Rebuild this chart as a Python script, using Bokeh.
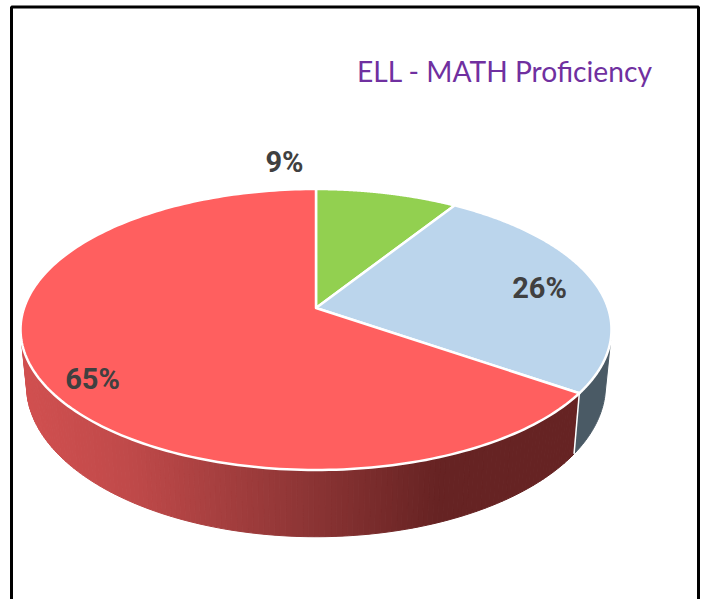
import numpy as np
from bokeh.plotting import figure
from bokeh.embed import file_html
from bokeh.resources import INLINE
from bokeh.core.properties import value

# --- data ---
categories = ["Proficient", "Approaching", "Below"]
shares = [9.0, 25.6, 65.4]
shown_labels = ["9%", "26%", "65%"]
slice_colors = ["#92D050", "#BBD5EC", "#FF5F5F"]
blue_wall_color = "#4A5A65"
title_text = "ELL - MATH Proficiency"

# --- layout / style ---
W, H = 709, 599
CX, CY = 315.5, 307.5
RX, RY = 292.0, 137.2
PERSP = -0.153
LOW_SX, LOW_RY, LOW_CY = 0.98, 148.0, 361.5
WALL_START, WALL_END = np.radians(103.0), np.radians(257.0)
label_pos = [(284, 161), (539, 287), (92, 378)]

def top(t):
    X, Y = np.sin(t), -np.cos(t)
    d = 1 + PERSP * Y
    return CX + RX * X / d, CY + RY * Y / d

def low(t):
    X, Y = np.sin(t), -np.cos(t)
    d = 1 + PERSP * Y
    return CX + LOW_SX * RX * X / d, LOW_CY + LOW_RY * Y / d

def red_shade(x):
    stops_x = [20, 130, 300, 440, 620]
    r = np.interp(x, stops_x, [0xD2, 0xC0, 0x8F, 0x66, 0x66])
    g = np.interp(x, stops_x, [0x50, 0x4A, 0x36, 0x23, 0x23])
    b = np.interp(x, stops_x, [0x50, 0x4A, 0x36, 0x23, 0x23])
    return "#%02x%02x%02x" % (int(r), int(g), int(b))

p = figure(width=W, height=H, x_range=(0, W), y_range=(H, 0),
           toolbar_location=None, output_backend="svg", min_border=0,
           outline_line_color=None, background_fill_color="white",
           border_fill_color="white")
p.axis.visible = False
p.grid.visible = False

# frame
p.line([11, 11, 698, 698], [H, 6.5, 6.5, H], line_color="black", line_width=3)

edges = np.cumsum([0.0] + shares) / sum(shares) * 2 * np.pi

# red wall, shaded strip by strip
steps = np.linspace(edges[2], WALL_END, 141)
xs, ys, cols = [], [], []
for t0, t1 in zip(steps[:-1], steps[1:]):
    x0, y0 = top(t0); x1, y1 = top(t1)
    x2, y2 = low(t1); x3, y3 = low(t0)
    xs.append([x0, x1, x2, x3]); ys.append([y0, y1, y2, y3])
    cols.append(red_shade((x0 + x1 + x2 + x3) / 4))
p.patches(xs, ys, fill_color=cols, line_color=cols, line_width=1)

# blue wall
bt = np.linspace(WALL_START, edges[2], 30)
bx = list(top(bt)[0]) + list(low(bt)[0][::-1])
by = list(top(bt)[1]) + list(low(bt)[1][::-1])
p.patch(bx, by, fill_color=blue_wall_color, line_color=blue_wall_color, line_width=1)

# wall seam
sx0, sy0 = top(edges[2]); sx1, sy1 = low(edges[2])
p.line([sx0, sx1], [sy0, sy1], line_color="white", line_width=1.5)

# top faces
for i in range(3):
    t = np.linspace(edges[i], edges[i + 1], 200)
    rx, ry = top(t)
    p.patch([CX] + list(rx), [CY] + list(ry), fill_color=slice_colors[i],
            line_color="white", line_width=2.5, line_join="round")

# labels
for s, (lx, ly) in zip(shown_labels, label_pos):
    p.text([lx], [ly], text=[s], text_font=value("Roboto"),
           text_font_style="bold", text_font_size="29px", text_color="#404040",
           text_align="center", text_baseline="middle")

p.text([356.5], [70], text=[title_text], text_font=value("Lato"), text_font_size="28.2px",
       text_color="#7030A0", text_align="left", text_baseline="middle")

open("out.html", "w").write(file_html(p, INLINE))
